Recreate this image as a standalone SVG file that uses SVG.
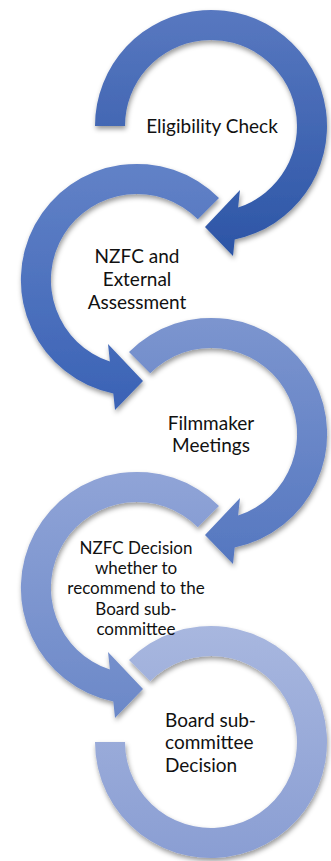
<svg xmlns="http://www.w3.org/2000/svg" width="331" height="861" viewBox="0 0 331 861">
<defs>
<style>
.lbl{font-family:Lato,"Open Sans","Liberation Sans",sans-serif;fill:#111;font-size:19px}
.sm{font-size:17px}
</style>
<filter id="sh" x="-20%" y="-20%" width="140%" height="140%">
<feDropShadow dx="1" dy="3" stdDeviation="2.5" flood-color="#000" flood-opacity="0.4"/>
</filter>
<linearGradient id="g1" x1="0" y1="0" x2="0" y2="1"><stop offset="0" stop-color="#5878c0"/><stop offset="1" stop-color="#2c55a6"/></linearGradient>
<linearGradient id="g2" x1="0" y1="0" x2="0" y2="1"><stop offset="0" stop-color="#6282c7"/><stop offset="1" stop-color="#3a62b5"/></linearGradient>
<linearGradient id="g3" x1="0" y1="0" x2="0" y2="1"><stop offset="0" stop-color="#7c95cf"/><stop offset="1" stop-color="#5577c0"/></linearGradient>
<linearGradient id="g4" x1="0" y1="0" x2="0" y2="1"><stop offset="0" stop-color="#90a4d7"/><stop offset="1" stop-color="#6b88c8"/></linearGradient>
<linearGradient id="g5" x1="0" y1="0" x2="0" y2="1"><stop offset="0" stop-color="#a8b7df"/><stop offset="1" stop-color="#8a9ed3"/></linearGradient>
</defs>
<rect width="331" height="861" fill="#fff"/>
<g id="connectors"></g>
<g id="node5">
<path filter="url(#sh)" fill="url(#g5)" d="M 129 660 A 116 116 0 1 1 95 742 L 125 742 A 86 86 0 1 0 150.2 681.2 Z"/>
<text class="lbl" x="165" y="727">Board sub-</text>
<text class="lbl" x="165" y="749">committee</text>
<text class="lbl" x="165" y="772">Decision</text>
</g>
<g id="node4">
<path filter="url(#sh)" fill="url(#g4)" d="M 219 506 A 116 116 0 1 0 113.3 701.5 L 115 718 L 143 689 L 108 652 L 109.9 669.6 A 86 86 0 1 1 197.8 527.2 Z"/>
<text class="lbl sm" text-anchor="middle" x="136" y="554">NZFC Decision</text>
<text class="lbl sm" text-anchor="middle" x="136" y="574">whether to</text>
<text class="lbl sm" text-anchor="middle" x="136" y="594">recommend to the</text>
<text class="lbl sm" text-anchor="middle" x="136" y="615">Board sub-</text>
<text class="lbl sm" text-anchor="middle" x="136" y="635">committee</text>
</g>
<g id="node3">
<path filter="url(#sh)" fill="url(#g3)" d="M 129 352 A 116 116 0 1 1 234.7 547.5 L 233 564 L 205 535 L 240 498 L 238.1 515.6 A 86 86 0 1 0 150.2 373.2 Z"/>
<text class="lbl" text-anchor="middle" x="211" y="430">Filmmaker</text>
<text class="lbl" text-anchor="middle" x="211" y="452">Meetings</text>
</g>
<g id="node2">
<path filter="url(#sh)" fill="url(#g2)" d="M 219 198 A 116 116 0 1 0 113.3 393.5 L 115 410 L 143 381 L 108 344 L 109.9 361.6 A 86 86 0 1 1 197.8 219.2 Z"/>
<text class="lbl" text-anchor="middle" x="137" y="263">NZFC and</text>
<text class="lbl" text-anchor="middle" x="137" y="286">External</text>
<text class="lbl" text-anchor="middle" x="137" y="309">Assessment</text>
</g>
<g id="node1">
<path filter="url(#sh)" fill="url(#g1)" d="M 95 126 A 116 116 0 1 1 234.7 239.5 L 233 256 L 205 227 L 240 190 L 238.1 207.6 A 86 86 0 1 0 125 126 Z"/>
<text class="lbl" text-anchor="middle" x="212" y="133">Eligibility Check</text>
</g>
</svg>
